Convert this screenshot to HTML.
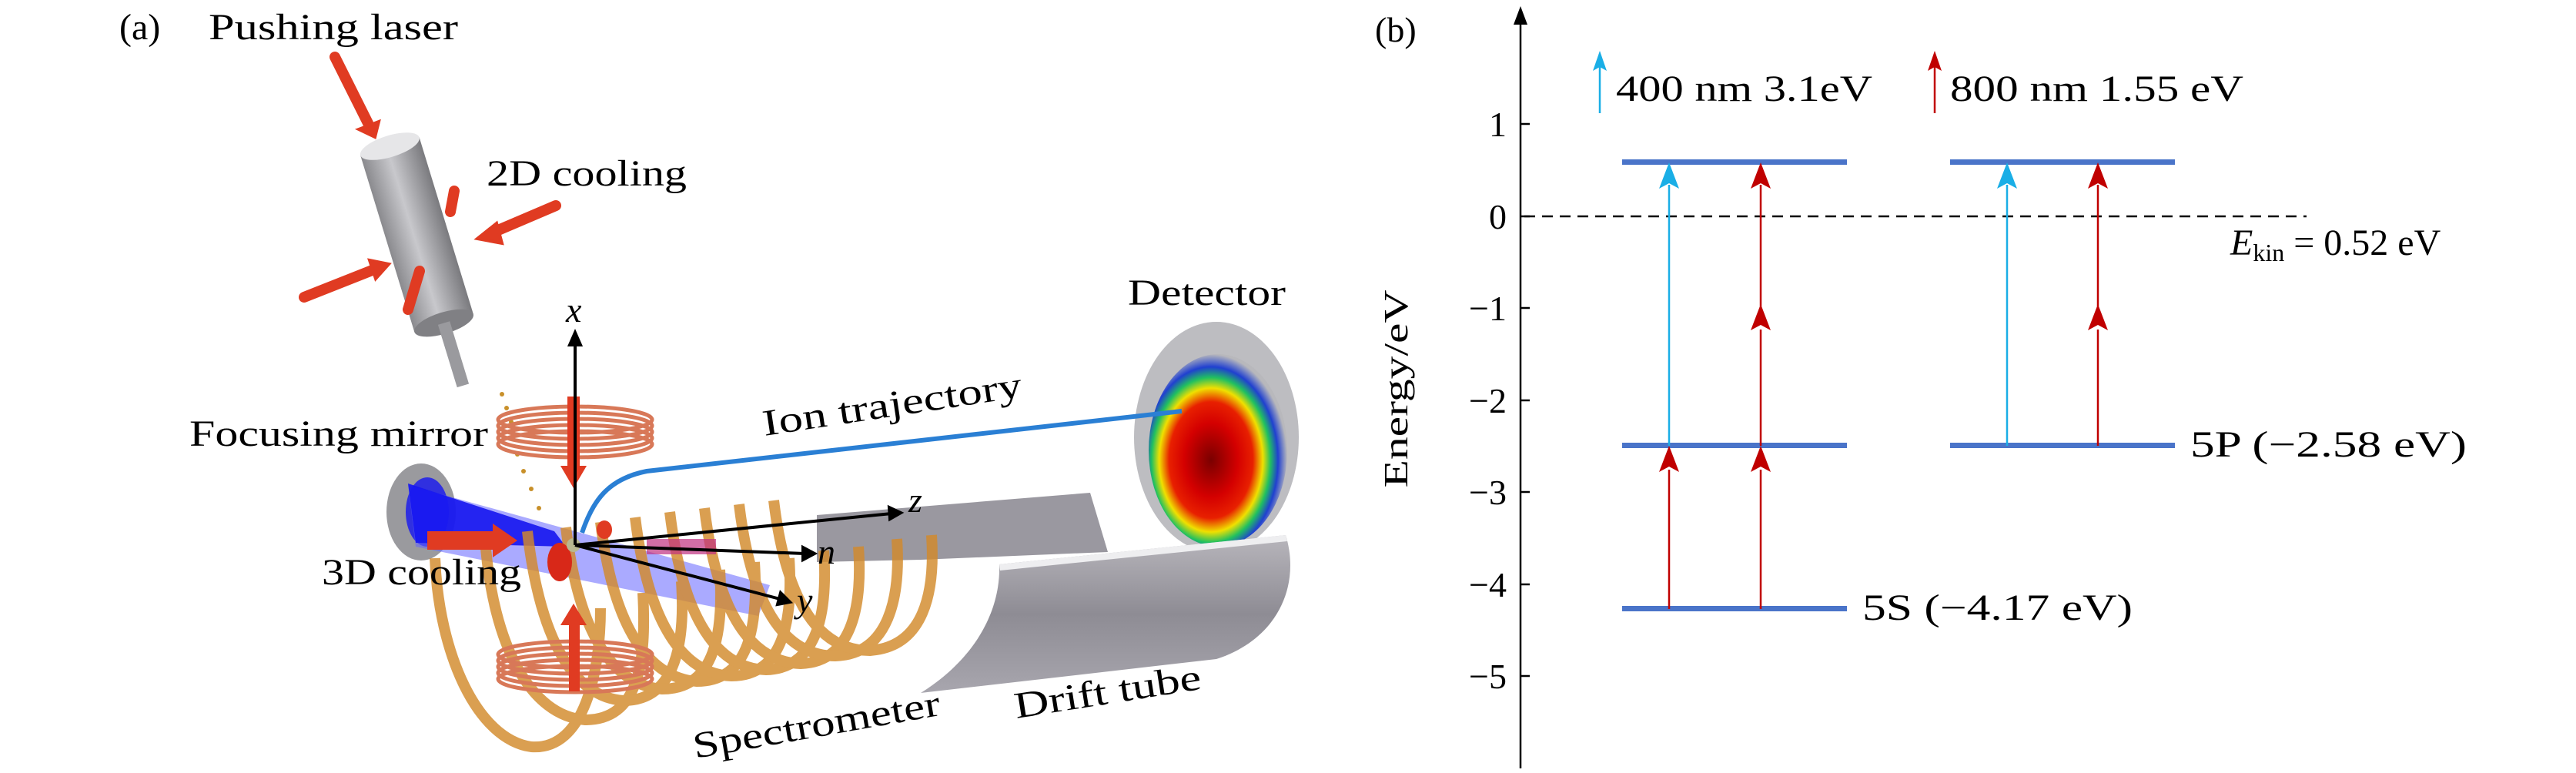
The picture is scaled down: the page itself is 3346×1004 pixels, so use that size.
<!DOCTYPE html>
<html><head><meta charset="utf-8"><style>
html,body{margin:0;padding:0;background:#fff}
svg{display:block}
text{font-family:"Liberation Serif",serif;fill:#000}
</style></head><body>
<svg width="3346" height="1004" viewBox="0 0 3346 1004" xmlns="http://www.w3.org/2000/svg">
<defs>
<linearGradient id="cyl" x1="0" x2="1"><stop offset="0" stop-color="#8a8a8e"/><stop offset=".45" stop-color="#c8c8cc"/><stop offset="1" stop-color="#7a7a7e"/></linearGradient>
<linearGradient id="tube" x1="0" y1="0" x2="0" y2="1"><stop offset="0" stop-color="#b8b6bc"/><stop offset=".5" stop-color="#8e8c94"/><stop offset="1" stop-color="#a8a6ae"/></linearGradient>
<radialGradient id="det" cx=".45" cy=".55" r=".55"><stop offset="0" stop-color="#7a0000"/><stop offset=".35" stop-color="#d40000"/><stop offset=".55" stop-color="#e82000"/><stop offset=".68" stop-color="#f0e000"/><stop offset=".78" stop-color="#20c060"/><stop offset=".88" stop-color="#2040d0"/><stop offset="1" stop-color="#b8b8bc"/></radialGradient>
</defs>

<!-- ===== Panel (a) ===== -->
<g font-size="48" lengthAdjust="spacingAndGlyphs">
<text x="155" y="51">(a)</text>
<text x="271" y="51" textLength="324" lengthAdjust="spacingAndGlyphs">Pushing laser</text>
<text x="632" y="241" textLength="260" lengthAdjust="spacingAndGlyphs">2D cooling</text>
<text x="246" y="579" textLength="388" lengthAdjust="spacingAndGlyphs">Focusing mirror</text>
<text x="1465" y="396" textLength="205" lengthAdjust="spacingAndGlyphs">Detector</text>
</g>

<!-- 2D MOT cylinder -->
<g transform="rotate(-17 540 300)">
<rect x="500" y="185" width="80" height="240" fill="url(#cyl)"/>
<ellipse cx="540" cy="185" rx="40" ry="14" fill="#e6e6e8"/>
<ellipse cx="540" cy="425" rx="40" ry="14" fill="#808084"/>
<rect x="532" y="425" width="16" height="85" fill="#9a9a9e"/>
</g>
<g stroke="#e03b22" stroke-width="14" fill="#e03b22" stroke-linecap="round">
<line x1="435" y1="74" x2="478" y2="160"/><path d="M466,168 L492,158 L487,178Z" stroke-width="4"/>
<line x1="722" y1="267" x2="640" y2="302"/><path d="M645,290 L620,310 L652,316Z" stroke-width="4"/>
<line x1="395" y1="386" x2="486" y2="350"/><path d="M480,338 L505,343 L488,362Z" stroke-width="4"/>
<line x1="590" y1="248" x2="585" y2="275"/>
<line x1="545" y1="352" x2="530" y2="402"/>
</g>
<g fill="#c8902a"><circle cx="652" cy="512" r="3"/><circle cx="658" cy="530" r="3"/><circle cx="664" cy="548" r="3"/><circle cx="672" cy="590" r="3"/><circle cx="680" cy="612" r="3"/><circle cx="690" cy="635" r="3"/><circle cx="700" cy="660" r="3"/></g>

<!-- back drift tube -->
<path d="M1061,669 L1416,640 L1439,717 L1196,727 L1061,730Z" fill="#9a98a0"/>
<!-- detector -->
<ellipse cx="1580" cy="568" rx="107" ry="150" fill="#bdbdc1"/>
<ellipse cx="1582" cy="585" rx="90" ry="125" fill="url(#det)"/>
<!-- front drift tube -->
<path d="M1298,733 L1670,695 C1690,760 1660,830 1580,856 L1196,900 C1260,860 1300,800 1298,733Z" fill="url(#tube)"/>
<path d="M1298,733 L1670,695 L1672,703 L1299,741Z" fill="#eeeef0"/>

<!-- mirror -->
<ellipse cx="547" cy="665" rx="45" ry="63" fill="#9a9a9e"/>
<ellipse cx="555" cy="665" rx="28" ry="45" fill="#3030e0"/>
<path d="M530,630 L1000,760 L985,800 L540,710Z" fill="#6464ff" opacity=".55"/>
<path d="M530,628 L720,690 L735,710 L540,705Z" fill="#1515f0" opacity=".9"/>

<!-- orange spectrometer rings -->
<g fill="none" stroke="#d38a2b" stroke-width="14" opacity=".82">
<path d="M565,725 C570,850 620,960 690,970 C760,975 780,870 780,790"/>
<path d="M630,700 C640,840 690,930 760,935 C830,935 840,860 835,770"/>
<path d="M685,690 C700,820 740,905 810,910 C880,910 890,830 885,755"/>
<path d="M735,685 C750,810 790,890 860,895 C930,895 940,820 935,740"/>
<path d="M780,678 C795,800 835,880 905,885 C975,885 985,810 980,730"/>
<path d="M825,672 C840,795 880,875 950,878 C1020,878 1030,800 1025,725"/>
<path d="M870,665 C885,790 925,868 995,870 C1065,868 1075,790 1070,715"/>
<path d="M915,660 C930,785 970,860 1040,862 C1110,860 1120,780 1115,710"/>
<path d="M960,655 C975,780 1015,852 1085,852 C1155,850 1170,775 1165,700"/>
<path d="M1005,650 C1020,775 1060,845 1130,845 C1200,840 1215,770 1210,695"/>
</g>

<!-- coils -->
<g fill="none" stroke="#d87858" stroke-width="5">
<ellipse cx="747" cy="545" rx="100" ry="17"/><ellipse cx="747" cy="553" rx="100" ry="17"/><ellipse cx="747" cy="561" rx="100" ry="17"/><ellipse cx="747" cy="569" rx="100" ry="17"/><ellipse cx="747" cy="577" rx="100" ry="17"/>
<ellipse cx="747" cy="850" rx="100" ry="17"/><ellipse cx="747" cy="858" rx="100" ry="17"/><ellipse cx="747" cy="866" rx="100" ry="17"/><ellipse cx="747" cy="874" rx="100" ry="17"/><ellipse cx="747" cy="882" rx="100" ry="17"/>
</g>
<g fill="#e03b22">
<rect x="737" y="515" width="16" height="95"/><path d="M728,605 L762,605 L745,634Z"/>
<rect x="739" y="810" width="14" height="88"/><path d="M728,812 L762,812 L745,784Z"/>
<rect x="555" y="690" width="90" height="24"/><path d="M640,680 L672,702 L640,724Z"/>
<ellipse cx="727" cy="730" rx="16" ry="25" fill="#d82818"/>
<ellipse cx="785" cy="688" rx="10" ry="12" fill="#e03b22"/>
<rect x="840" y="700" width="90" height="20" fill="#c03080" opacity=".7"/>
</g>
<circle cx="745" cy="708" r="9" fill="#b8b890"/>

<path d="M756,692 C770,650 790,622 840,612 L1535,534" fill="none" stroke="#2a7fd4" stroke-width="6"/>
<text x="993" y="566" font-size="48" textLength="340" lengthAdjust="spacingAndGlyphs" transform="rotate(-8.6 993 566)">Ion trajectory</text>

<g stroke="#000" stroke-width="4" fill="#000">
<line x1="747" y1="708" x2="747" y2="445"/><path d="M740,448 L747,432 L754,448Z"/>
<line x1="747" y1="708" x2="1158" y2="667"/><path d="M1155,659 L1170,666 L1156,674Z"/>
<line x1="747" y1="708" x2="1045" y2="719"/><path d="M1043,711 L1058,719 L1043,727Z"/>
<line x1="747" y1="708" x2="1013" y2="778"/><path d="M1014,770 L1026,782 L1010,785Z"/>
</g>
<g font-style="italic" font-size="46">
<text x="735" y="418">x</text><text x="1180" y="665">z</text><text x="1062" y="732">n</text><text x="1035" y="795">y</text>
</g>
<text x="418" y="759" font-size="48" textLength="259" lengthAdjust="spacingAndGlyphs">3D cooling</text>
<text x="903" y="985" font-size="48" textLength="325" lengthAdjust="spacingAndGlyphs" transform="rotate(-10 903 985)">Spectrometer</text>
<text x="1320" y="933" font-size="48" textLength="245" lengthAdjust="spacingAndGlyphs" transform="rotate(-9 1320 933)">Drift tube</text>

<!-- ===== Panel (b) ===== -->
<text x="1786" y="54" font-size="46">(b)</text>
<line x1="1975" y1="24" x2="1975" y2="998" stroke="#000" stroke-width="2.5"/>
<path d="M1966,32 L1975,8 L1984,32 Z" fill="#000"/>
<g stroke="#000" stroke-width="2.5">
<line x1="1975" y1="161" x2="1987" y2="161"/><line x1="1975" y1="281" x2="1987" y2="281"/><line x1="1975" y1="400" x2="1987" y2="400"/><line x1="1975" y1="520" x2="1987" y2="520"/><line x1="1975" y1="639" x2="1987" y2="639"/><line x1="1975" y1="759" x2="1987" y2="759"/><line x1="1975" y1="878" x2="1987" y2="878"/>
</g>
<g font-size="46" text-anchor="end">
<text x="1957" y="177">1</text><text x="1957" y="297">0</text><text x="1957" y="416">−1</text><text x="1957" y="536">−2</text><text x="1957" y="655">−3</text><text x="1957" y="775">−4</text><text x="1957" y="894">−5</text>
</g>
<text x="0" y="0" font-size="44" text-anchor="middle" textLength="257" lengthAdjust="spacingAndGlyphs" transform="translate(1828 505) rotate(-90)">Energy/eV</text>
<line x1="1980" y1="281" x2="2996" y2="281" stroke="#000" stroke-width="2.5" stroke-dasharray="14 9"/>

<g fill="#4a74c9">
<rect x="2107" y="207" width="292" height="7"/><rect x="2533" y="207" width="292" height="7"/>
<rect x="2107" y="575" width="292" height="7"/><rect x="2533" y="575" width="292" height="7"/>
<rect x="2107" y="787" width="292" height="7"/>
</g>

<g stroke-width="2.5">
<line x1="2168" y1="579" x2="2168" y2="240" stroke="#1aaee6"/>
<line x1="2607" y1="579" x2="2607" y2="240" stroke="#1aaee6"/>
<line x1="2168" y1="791" x2="2168" y2="610" stroke="#c00000"/>
<line x1="2287" y1="791" x2="2287" y2="610" stroke="#c00000"/>
<line x1="2287" y1="579" x2="2287" y2="428" stroke="#c00000"/>
<line x1="2287" y1="398" x2="2287" y2="240" stroke="#c00000"/>
<line x1="2725" y1="579" x2="2725" y2="428" stroke="#c00000"/>
<line x1="2725" y1="398" x2="2725" y2="240" stroke="#c00000"/>
<line x1="2078" y1="147" x2="2078" y2="85" stroke="#1aaee6"/>
<line x1="2513" y1="147" x2="2513" y2="85" stroke="#c00000"/>
</g>
<g fill="#1aaee6">
<path d="M2168,211 L2181,245 L2168,238 L2155,245Z"/>
<path d="M2607,211 L2620,245 L2607,238 L2594,245Z"/>
<path d="M2078,66 L2087,92 L2078,87 L2069,92Z"/>
</g>
<g fill="#c00000">
<path d="M2168,579 L2181,613 L2168,606 L2155,613Z"/>
<path d="M2287,579 L2300,613 L2287,606 L2274,613Z"/>
<path d="M2287,395 L2300,429 L2287,422 L2274,429Z"/>
<path d="M2287,211 L2300,245 L2287,238 L2274,245Z"/>
<path d="M2725,395 L2738,429 L2725,422 L2712,429Z"/>
<path d="M2725,211 L2738,245 L2725,238 L2712,245Z"/>
<path d="M2513,66 L2522,92 L2513,87 L2504,92Z"/>
</g>

<g font-size="48">
<text x="2099" y="131" textLength="333" lengthAdjust="spacingAndGlyphs">400 nm 3.1eV</text>
<text x="2533" y="131" textLength="381" lengthAdjust="spacingAndGlyphs">800 nm 1.55 eV</text>
<text x="2897" y="331"><tspan font-style="italic">E</tspan><tspan font-size="32" dy="8">kin</tspan><tspan dy="-8"> = 0.52 eV</tspan></text>
<text x="2845" y="593" textLength="359" lengthAdjust="spacingAndGlyphs">5P (−2.58 eV)</text>
<text x="2419" y="805" textLength="351" lengthAdjust="spacingAndGlyphs">5S (−4.17 eV)</text>
</g>
</svg>
</body></html>
